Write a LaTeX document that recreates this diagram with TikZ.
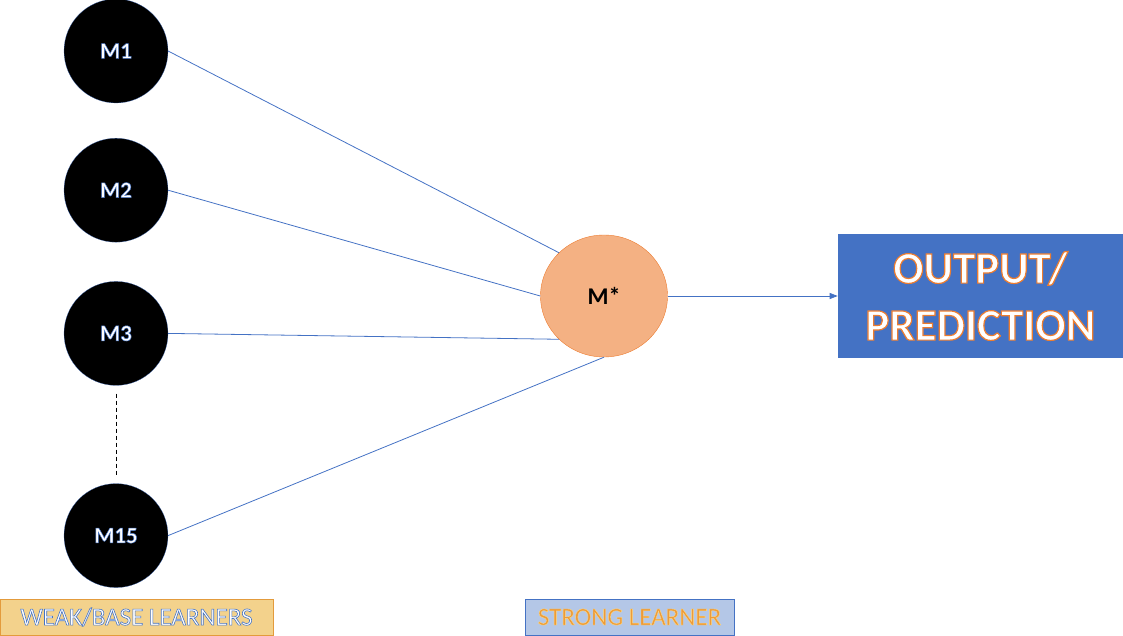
\documentclass[tikz,border=0pt]{standalone}
\usepackage{fontspec}
\setmainfont{Carlito}
\usepackage{xcolor}
\usepackage{tikz}
\usetikzlibrary{shapes.geometric, arrows.meta, positioning}
\definecolor{lineblue}{HTML}{4472C4}
\definecolor{salmon}{HTML}{F4B183}
\definecolor{orangeline}{HTML}{ED7D31}
\definecolor{goldfill}{HTML}{F3D28C}
\definecolor{goldline}{HTML}{E39B3C}
\definecolor{paleblue}{HTML}{B4C7E7}
\definecolor{orangetext}{HTML}{EC9A3A}
% outlined text: stroke colour (rgb), stroke width, text
\newcommand{\outlined}[3]{\special{pdf:literal direct 2 Tr #2 w #1 RG}#3\special{pdf:literal direct 0 Tr}}
\tikzset{
  learner/.style={circle, fill=black, draw=lineblue, very thin, minimum size=104pt,
                  inner sep=0pt, text=white, font=\fontsize{23}{23}\selectfont\bfseries},
  combiner/.style={ellipse, fill=salmon, draw=orangeline, minimum width=127pt,
                   minimum height=122pt, inner sep=0pt, text=black,
                   font=\fontsize{24}{24}\selectfont\bfseries},
  result/.style={rectangle, fill=lineblue, minimum width=285pt, minimum height=123pt,
                 align=center, text=white, font=\fontsize{45}{57}\selectfont\bfseries},
  tag/.style={rectangle, minimum height=36pt, inner sep=0pt, font=\fontsize{25}{25}\selectfont},
  link/.style={lineblue, line width=0.8pt},
  arrow/.style={link, -{Triangle[length=8pt, width=6pt]}},
}
\begin{document}
\begin{tikzpicture}[x=1pt, y=-1pt]
  \useasboundingbox (0,0) rectangle (1123,636);
  \node[learner] at (116,51)      (m1)  {\outlined{0.27 0.45 0.77}{0.5}{M1}};
  \node[learner, below=35pt of m1] (m2)  {\outlined{0.27 0.45 0.77}{0.5}{M2}};
  \node[learner, below=39pt of m2] (m3)  {\outlined{0.27 0.45 0.77}{0.5}{M3}};
  \node[learner, below=98pt of m3] (m15) {\outlined{0.27 0.45 0.77}{0.5}{M15}};
  \node[combiner] at (604,296)    (mstar) {M*};
  \node[result, right=170pt of mstar] (out)
       {\outlined{0.93 0.49 0.19}{1.2}{OUTPUT/}\\\outlined{0.93 0.49 0.19}{1.2}{PREDICTION}};
  \node[tag, fill=goldfill, draw=goldline, minimum width=273pt, text=white] at (136.5,617) (weaktag)
       {\outlined{0.27 0.45 0.77}{0.6}{WEAK/BASE LEARNERS}};
  \node[tag, fill=paleblue, draw=lineblue, minimum width=209pt, text=orangetext] at (629.5,617) (strongtag)
       {\outlined{1 0.85 0.5}{0.4}{STRONG LEARNER}};

  \draw[link] (m1.east) -- (mstar.north west);
  \draw[link] (m2.east) -- (mstar.west);
  \draw[link] (m3.east) -- (mstar.south west);
  \draw[link] (m15.east) -- (mstar.south);
  \draw[arrow] (mstar.east) -- (out.west);
  \draw[thin, dash pattern=on 4pt off 3pt] ([yshift=-8pt]m3.south) -- ([yshift=8pt]m15.north);
\end{tikzpicture}
\end{document}
